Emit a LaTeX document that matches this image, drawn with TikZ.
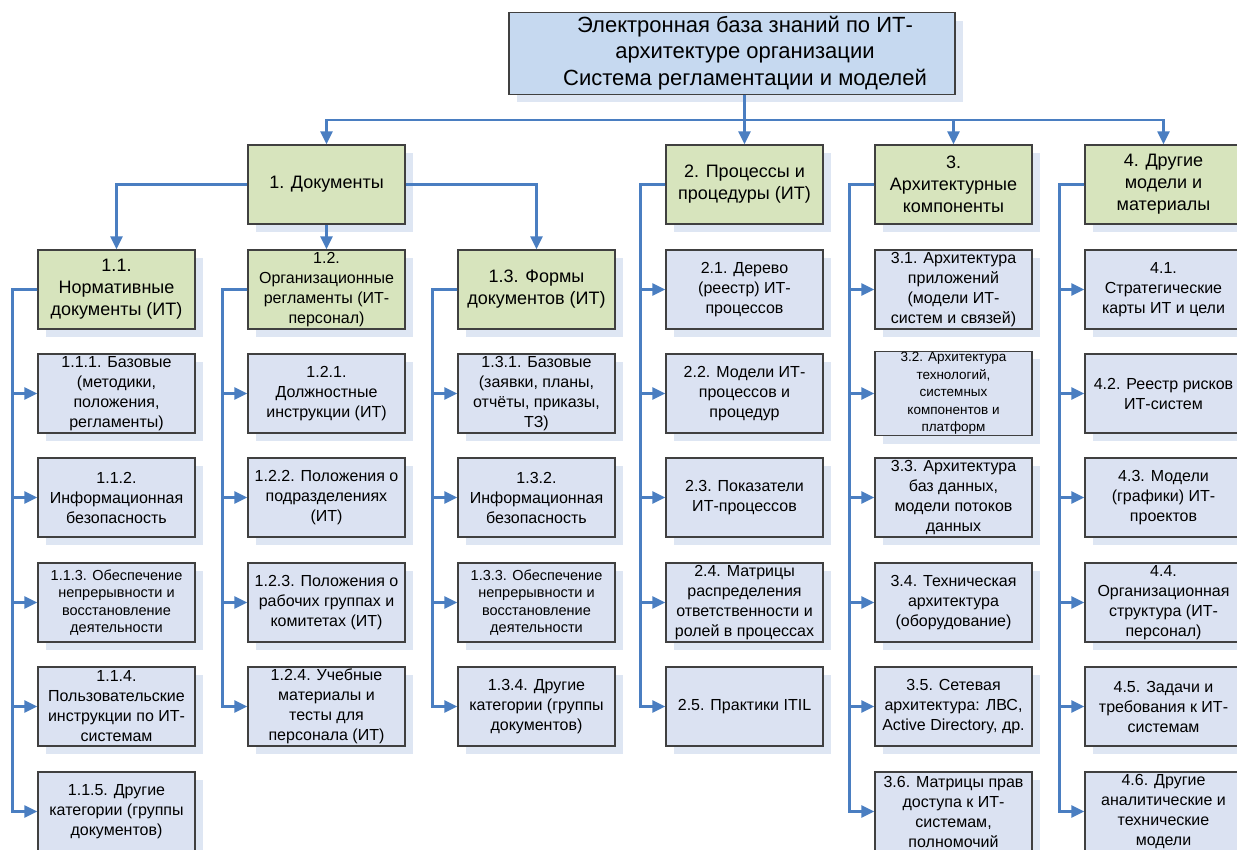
\documentclass[tikz,border=0pt]{standalone}
\usepackage{fontspec}
\setmainfont{Liberation Sans}
\usetikzlibrary{arrows.meta,shadows}

\definecolor{linkblue}{RGB}{74,126,193}
\definecolor{topfill}{RGB}{198,217,240}
\definecolor{greenfill}{RGB}{215,228,189}
\definecolor{bluefill}{RGB}{219,226,242}
\definecolor{shadowfill}{RGB}{222,230,243}
\definecolor{edgegray}{RGB}{64,64,64}

\tikzset{
  box/.style={draw=edgegray, line width=1.3pt, minimum width=157pt, minimum height=79pt,
    inner sep=1pt, align=center, font=\fontsize{16}{20}\selectfont,
    general shadow={shadow xshift=8pt, shadow yshift=-8pt, fill=shadowfill}},
  topbox/.style={box, fill=topfill, minimum width=446pt, font=\fontsize{22}{26.5}\selectfont},
  groupbox/.style={box, fill=greenfill, font=\fontsize{18}{22}\selectfont},
  itembox/.style={box, fill=bluefill},
  smalltext/.style={font=\fontsize{14.5}{17.5}\selectfont},
  link/.style={draw=linkblue, line width=2.3pt, -{Triangle[length=13pt,width=12pt]}}
}

\begin{document}
\begin{tikzpicture}[x=1pt,y=-1pt]
\useasboundingbox (0,0) rectangle (1237,849);

% Root (text sits a little right of the box centre)
\node[topbox] (root) at (732,53.5) {\begin{tabular}{@{\hspace{26pt}}c@{}}Электронная база знаний по ИТ-\\архитектуре организации\\Система регламентации и моделей\end{tabular}};

% Main groups
\node[groupbox] (n1) at (326.5,184.5) {1. Документы};
\node[groupbox] (n2) at (744.5,184.5) {2. Процессы и\\процедуры (ИТ)};
\node[groupbox] (n3) at (953.5,184.5) {3.\\Архитектурные\\компоненты};
\node[groupbox] (n4) at (1163.5,184.5) {4. Другие\\модели и\\материалы};

% Documents subgroups
\node[groupbox] (n11) at (116.5,289.5) {1.1.\\Нормативные\\документы (ИТ)};
\node[groupbox,font=\fontsize{16}{20}\selectfont] (n12) at (326.5,289.5) {1.2.\\Организационные\\регламенты (ИТ-\\персонал)};
\node[groupbox] (n13) at (536.5,289.5) {1.3. Формы\\документов (ИТ)};

% 1.1.x
\node[itembox] (n111) at (116.5,393.5) {1.1.1. Базовые\\(методики,\\положения,\\регламенты)};
\node[itembox] (n112) at (116.5,497.5) {1.1.2.\\Информационная\\безопасность};
\node[itembox,smalltext] (n113) at (116.5,602.5) {1.1.3. Обеспечение\\непрерывности и\\восстановление\\деятельности};
\node[itembox] (n114) at (116.5,706.5) {1.1.4.\\Пользовательские\\инструкции по ИТ-\\системам};
\node[itembox] (n115) at (116.5,811.5) {1.1.5. Другие\\категории (группы\\документов)};

% 1.2.x
\node[itembox] (n121) at (326.5,393.5) {1.2.1.\\Должностные\\инструкции (ИТ)};
\node[itembox] (n122) at (326.5,497.5) {1.2.2. Положения о\\подразделениях\\(ИТ)};
\node[itembox] (n123) at (326.5,602.5) {1.2.3. Положения о\\рабочих группах и\\комитетах (ИТ)};
\node[itembox] (n124) at (326.5,706.5) {1.2.4. Учебные\\материалы и\\тесты для\\персонала (ИТ)};

% 1.3.x
\node[itembox] (n131) at (536.5,393.5) {1.3.1. Базовые\\(заявки, планы,\\отчёты, приказы,\\ТЗ)};
\node[itembox] (n132) at (536.5,497.5) {1.3.2.\\Информационная\\безопасность};
\node[itembox,smalltext] (n133) at (536.5,602.5) {1.3.3. Обеспечение\\непрерывности и\\восстановление\\деятельности};
\node[itembox] (n134) at (536.5,706.5) {1.3.4. Другие\\категории (группы\\документов)};

% 2.x
\node[itembox] (n21) at (744.5,289.5) {2.1. Дерево\\(реестр) ИТ-\\процессов};
\node[itembox] (n22) at (744.5,393.5) {2.2. Модели ИТ-\\процессов и\\процедур};
\node[itembox] (n23) at (744.5,497.5) {2.3. Показатели\\ИТ-процессов};
\node[itembox] (n24) at (744.5,602.5) {2.4. Матрицы\\распределения\\ответственности и\\ролей в процессах};
\node[itembox] (n25) at (744.5,706.5) {2.5. Практики ITIL};

% 3.x
\node[itembox] (n31) at (953.5,289.5) {3.1. Архитектура\\приложений\\(модели ИТ-\\систем и связей)};
\node[itembox,font=\fontsize{13.5}{17.5}\selectfont] (n32) at (953.5,393.5) {3.2. Архитектура\\технологий,\\системных\\компонентов и\\платформ};
\node[itembox] (n33) at (953.5,497.5) {3.3. Архитектура\\баз данных,\\модели потоков\\данных};
\node[itembox] (n34) at (953.5,602.5) {3.4. Техническая\\архитектура\\(оборудование)};
\node[itembox] (n35) at (953.5,706.5) {3.5. Сетевая\\архитектура: ЛВС,\\Active Directory, др.};
\node[itembox] (n36) at (953.5,811.5) {3.6. Матрицы прав\\доступа к ИТ-\\системам,\\полномочий};

% 4.x
\node[itembox] (n41) at (1163.5,289.5) {4.1.\\Стратегические\\карты ИТ и цели};
\node[itembox] (n42) at (1163.5,393.5) {4.2. Реестр рисков\\ИТ-систем};
\node[itembox] (n43) at (1163.5,497.5) {4.3. Модели\\(графики) ИТ-\\проектов};
\node[itembox] (n44) at (1163.5,602.5) {4.4.\\Организационная\\структура (ИТ-\\персонал)};
\node[itembox] (n45) at (1163.5,706.5) {4.5. Задачи и\\требования к ИТ-\\системам};
\node[itembox] (n46) at (1163.5,811.5) {4.6. Другие\\аналитические и\\технические\\модели};

% Root to main groups
\foreach \g in {n1,n2,n3,n4}
  \draw[link] (root.south -| n2.north) -- ++(0,25) -| (\g.north);

% Documents to subgroups
\draw[link] (n1.west) -| (n11.north);
\draw[link] (n1.south) -- (n12.north);
\draw[link] (n1.east) -| (n13.north);

% Column buses
\foreach \c in {111,112,113,114,115}
  \draw[link] (n11.west) -- ++(-25,0) |- (n\c.west);
\foreach \c in {121,122,123,124}
  \draw[link] (n12.west) -- ++(-25,0) |- (n\c.west);
\foreach \c in {131,132,133,134}
  \draw[link] (n13.west) -- ++(-25,0) |- (n\c.west);
\foreach \c in {21,22,23,24,25}
  \draw[link] (n2.west) -- ++(-25,0) |- (n\c.west);
\foreach \c in {31,32,33,34,35,36}
  \draw[link] (n3.west) -- ++(-25,0) |- (n\c.west);
\foreach \c in {41,42,43,44,45,46}
  \draw[link] (n4.west) -- ++(-25,0) |- (n\c.west);

\end{tikzpicture}
\end{document}
